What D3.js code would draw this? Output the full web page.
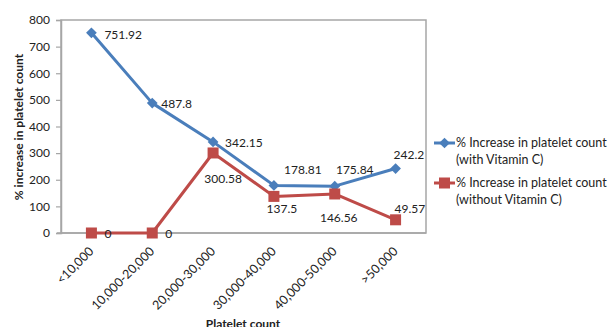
<!DOCTYPE html>
<html><head><meta charset="utf-8">
<script src="https://cdn.jsdelivr.net/npm/d3@7"></script>
<style>body{margin:0;background:#fff}svg{display:block}text{font-family:Lato,"Open Sans",sans-serif;fill:#222}</style>
</head><body><svg id="c" width="611" height="327"></svg>
<script>
const categories = ["<10,000","10,000-20,000","20,000-30,000","30,000-40,000","40,000-50,000",">50,000"];
const withVitC = [751.92, 487.8, 342.15, 178.81, 175.84, 242.2];
const withoutVitC = [0, 0, 300.58, 137.5, 146.56, 49.57];
const withLabels = ["751.92","487.8","342.15","178.81","175.84","242.2"];
const withoutLabels = ["0","0","300.58","137.5","146.56","49.57"];
const yTicks = [0,100,200,300,400,500,600,700,800];
const seriesNames = [["% Increase in platelet count","(with Vitamin C)"],["% Increase in platelet count","(without Vitamin C)"]];
// data-label layout (offset from marker, text anchor)
const withLayout = [[13,6,"start"],[9,5,"start"],[12,5,"start"],[29,-11,"middle"],[20,-12,"middle"],[-2,-10,"start"]];
const withoutLayout = [[13,5,"start"],[13,5,"start"],[10,30,"middle"],[8,17,"middle"],[4,28,"middle"],[-1,-7,"start"]];

const svg = d3.select("#c");
const L=61, R=426, T=20, B=233;
const x = d3.scaleBand().domain(categories).range([L,R]);
const y = d3.scaleLinear().domain([0,800]).range([B,T]);
const blue="#4A7EBB", red="#BE4B48", grid="#A6A6A6";
const FS="12px";

// plot border
svg.append("rect").attr("x",L).attr("y",T).attr("width",R-L).attr("height",B-T)
  .attr("fill","none").attr("stroke",grid).attr("stroke-width",1.5);

const ya = svg.append("g").attr("transform",`translate(${L},0)`)
  .call(d3.axisLeft(y).tickValues(yTicks).tickSize(5).tickPadding(6));
ya.select(".domain").attr("stroke",grid).attr("stroke-width",1.5);
ya.selectAll(".tick line").attr("stroke",grid).attr("stroke-width",1.2);
ya.selectAll("text").style("font-size",FS).attr("fill","#222");

const xa = svg.append("g").attr("transform",`translate(0,${B})`)
  .call(d3.axisBottom(x).tickSize(0).tickPadding(0));
xa.select(".domain").attr("stroke",grid).attr("stroke-width",1.5).attr("d",`M${L-4},0H${R}`);
xa.selectAll("text").style("font-size","12.5px").attr("fill","#222")
  .attr("text-anchor","end").attr("dy",null).attr("y",0)
  .attr("transform","translate(3,19) rotate(-45)");

const cxOf = i => x(categories[i])+x.bandwidth()/2;
const line = d3.line().x((d,i)=>cxOf(i)).y(d=>y(d));

function marker(g, kind, cx, cy, color){
  if(kind==="diamond"){
    g.append("rect").attr("x",-3.8).attr("y",-3.8).attr("width",7.6).attr("height",7.6)
     .attr("transform",`translate(${cx},${cy}) rotate(45)`).attr("fill",color);
  } else {
    g.append("rect").attr("x",cx-5.5).attr("y",cy-5.5).attr("width",11).attr("height",11).attr("fill",color);
  }
}

function drawSeries(vals, color, kind, labels, layout){
  svg.append("path").datum(vals).attr("d",line).attr("fill","none")
    .attr("stroke",color).attr("stroke-width",3).attr("stroke-linejoin","round");
  const g = svg.append("g");
  vals.forEach((v,i)=>{
    const cx=cxOf(i), cy=y(v);
    marker(g, kind, cx, cy, color);
    const [dx,dy,anc]=layout[i];
    g.append("text").text(labels[i]).style("font-size",FS)
      .attr("x",cx+dx).attr("y",cy+dy).attr("text-anchor",anc);
  });
}
drawSeries(withVitC, blue, "diamond", withLabels, withLayout);
drawSeries(withoutVitC, red, "square", withoutLabels, withoutLayout);

// legend
const lg = svg.append("g");
[[blue,"diamond",143],[red,"square",183]].forEach((s,k)=>{
  const [c,m,ly]=s;
  lg.append("line").attr("x1",434).attr("x2",455).attr("y1",ly).attr("y2",ly).attr("stroke",c).attr("stroke-width",3);
  marker(lg, m, 444.5, ly, c);
  lg.append("text").attr("x",456).attr("y",ly+4).text(seriesNames[k][0]).style("font-size","12.5px");
  lg.append("text").attr("x",456).attr("y",ly+21).text(seriesNames[k][1]).style("font-size","12.5px");
});

svg.append("text").attr("transform","translate(23,127) rotate(-90)").attr("text-anchor","middle")
  .style("font-size","12px").style("font-weight","bold").text("% increase in platelet count");
svg.append("text").attr("x",243).attr("y",328).attr("text-anchor","middle")
  .style("font-size","12px").style("font-weight","bold").text("Platelet count");
</script></body></html>
